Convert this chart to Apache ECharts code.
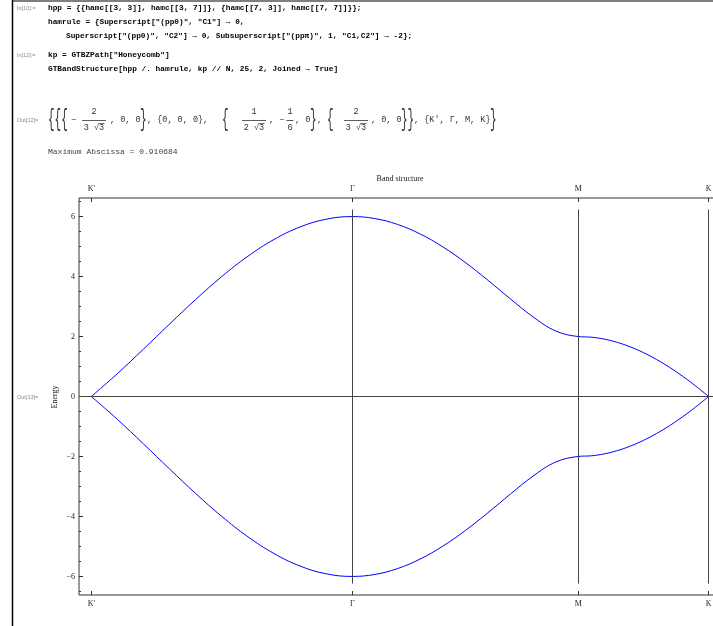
<!DOCTYPE html>
<html>
<head>
<meta charset="utf-8">
<script src="https://cdn.jsdelivr.net/npm/echarts@6/dist/echarts.min.js"></script>
<style>
html,body{margin:0;padding:0;background:#fff;overflow:hidden;}
#chart{width:722px;height:626px;}
</style>
</head>
<body>
<div id="chart"></div>
<script>
// ---- data ----
const kDist = [0, 0.03849, 0.07698, 0.11547, 0.15396, 0.19245, 0.23094, 0.26943, 0.30792, 0.34641, 0.38490,
  0.41823, 0.45157, 0.48490, 0.51823, 0.55157, 0.58490, 0.61823, 0.65157, 0.68490, 0.71823,
  0.73748, 0.75673, 0.77597, 0.79522, 0.81446, 0.83371, 0.85296, 0.87220, 0.89145, 0.91068];
const upperBand = [0, 0.764, 1.582, 2.418, 3.236, 4.000, 4.677, 5.236, 5.654, 5.913, 6.000,
  5.934, 5.740, 5.423, 4.994, 4.472, 3.880, 3.255, 2.656, 2.187, 2.000,
  1.978, 1.913, 1.804, 1.654, 1.464, 1.236, 0.973, 0.677, 0.351, 0];
const lowerBand = [0, -0.764, -1.582, -2.418, -3.236, -4.000, -4.677, -5.236, -5.654, -5.913, -6.000,
  -5.934, -5.740, -5.423, -4.994, -4.472, -3.880, -3.255, -2.656, -2.187, -2.000,
  -1.978, -1.913, -1.804, -1.654, -1.464, -1.236, -0.973, -0.677, -0.351, 0];
const kTickPos = [0, 0.38490, 0.71823, 0.91068];
const kTickLabels = ["K'", "\u0393", "M", "K"];
const energyTicks = [-6, -4, -2, 0, 2, 4, 6];
const energyMinorTicks = [-6.5, -5.5, -5, -4.5, -3.5, -3, -2.5, -1.5, -1, -0.5, 0.5, 1, 1.5, 2.5, 3, 3.5, 4.5, 5, 5.5, 6.5];
const codeLines = [
  'hpp = {{hamc[[3, 3]], hamc[[3, 7]]}, {hamc[[7, 3]], hamc[[7, 7]]}};',
  'hamrule = {Superscript["(pp0)", "C1"] \u2192 0,',
  'Superscript["(pp0)", "C2"] \u2192 0, Subsuperscript["(pp\u03c0)", 1, "C1,C2"] \u2192 -2};',
  'kp = GTBZPath["Honeycomb"]',
  'GTBandStructure[hpp /. hamrule, kp // N, 25, 2, Joined \u2192 True]'
];
const maxAbscissaText = 'Maximum Abscissa = 0.910684';

// ---- layout / styles ----
const X0 = -0.0182, X1 = 0.9289, Y0 = -6.62, Y1 = 6.62, VLINE = 6.24;
const serif = '"Liberation Serif", "Times New Roman", serif';
const mono = '"Liberation Mono", "Courier New", monospace';
const sans = '"Liberation Sans", Arial, sans-serif';
const outFont = '8.5px ' + mono;

function txt(x, y, text, font, fill, align, extra) {
  return Object.assign({type: 'text', x: x, y: y, silent: true,
    style: {text: text, font: font, fill: fill || '#000', textAlign: align || 'left', textVerticalAlign: 'middle'}}, extra || {});
}
function line(x1, y1, x2, y2, color, w) {
  return {type: 'line', silent: true, shape: {x1: x1, y1: y1, x2: x2, y2: y2}, style: {stroke: color, lineWidth: w}};
}
function frac(cx, y, num, den, half, rad) {
  const els = [
    txt(cx, y - 8, num, outFont, '#333', 'center'),
    line(cx - half, y + 0.5, cx + half, y + 0.5, '#333', 0.8),
    txt(cx, y + 8, den, outFont, '#333', 'center')
  ];
  if (rad) els.push(line(cx + 4.5, y + 3.5, cx + 10.5, y + 3.5, '#333', 0.7));
  return els;
}
function brace(x, y, t) {
  return txt(x, y, t, '11px ' + mono, '#333', 'left', {scaleY: 2.1});
}

const codeFont = 'bold 7.8px ' + mono;
const labelFont = '5.5px ' + sans;
const outY = 120;
const g = [
  line(12.5, 0, 12.5, 626, '#000', 1.5),
  line(12, 1, 722, 1, '#000', 1.2),
  txt(17, 8, 'In[10]:=', labelFont, '#888'),
  txt(48, 8, codeLines[0], codeFont),
  txt(48, 22, codeLines[1], codeFont),
  txt(66, 36, codeLines[2], codeFont),
  txt(17, 55, 'In[12]:=', labelFont, '#888'),
  txt(48, 55, codeLines[3], codeFont),
  txt(48, 69, codeLines[4], codeFont),
  txt(17, outY, 'Out[12]=', labelFont, '#888'),
  brace(48, outY, '{{{'),
  txt(71, outY, '\u2212', outFont, '#333'),
  ...frac(94, outY, '2', '3 \u221a3', 12, true),
  txt(110, outY, ', 0, 0', outFont, '#333'),
  brace(140, outY, '}'),
  txt(147, outY, ', {0, 0, 0}, ', outFont, '#333'),
  brace(222, outY, '{'),
  ...frac(254, outY, '1', '2 \u221a3', 12, true),
  txt(269, outY, ', \u2212', outFont, '#333'),
  ...frac(290, outY, '1', '6', 3.5, false),
  txt(295, outY, ', 0', outFont, '#333'),
  brace(310, outY, '}'),
  txt(317, outY, ', ', outFont, '#333'),
  brace(327, outY, '{'),
  ...frac(356, outY, '2', '3 \u221a3', 12, true),
  txt(371, outY, ', 0, 0', outFont, '#333'),
  brace(401, outY, '}}'),
  txt(414, outY, ', {K\u2032, \u0393, M, K}', outFont, '#333'),
  brace(490, outY, '}'),
  txt(48, 152, maxAbscissaText, '8px ' + mono, '#444'),
  txt(400, 179, 'Band structure', '8px ' + serif, '#222', 'center'),
  txt(17, 397, 'Out[13]=', labelFont, '#888'),
  txt(55, 397, 'Energy', '8px ' + serif, '#222', 'center', {rotation: Math.PI / 2})
];

const chart = echarts.init(document.getElementById('chart'), null, {renderer: 'canvas'});
const kFmt = v => { const i = kTickPos.findIndex(p => Math.abs(p - v) < 1e-6); return i >= 0 ? kTickLabels[i] : ''; };
const xAxisBase = pos => ({
  type: 'value', position: pos, min: X0, max: X1,
  axisLine: {show: false, onZero: false}, splitLine: {show: false},
  axisTick: {show: true, inside: true, length: 4, customValues: kTickPos, lineStyle: {color: '#333', width: 1}},
  axisLabel: {show: true, customValues: kTickPos, formatter: kFmt, margin: 5,
    fontFamily: serif, fontSize: 8, color: '#222'}
});
const pairs = arr => kDist.map((x, i) => [x, arr[i]]);

chart.setOption({
  animation: false,
  backgroundColor: '#fff',
  grid: {left: 79, top: 198, right: 1, height: 397, show: true, borderColor: '#333', borderWidth: 1,
    backgroundColor: 'transparent', containLabel: false, outerBoundsMode: 'none'},
  xAxis: [xAxisBase('bottom'), xAxisBase('top')],
  yAxis: [
    {type: 'value', position: 'left', min: Y0, max: Y1,
      axisLine: {show: false, onZero: false}, splitLine: {show: false},
      axisTick: {show: true, inside: true, length: 4, customValues: energyTicks, lineStyle: {color: '#333'}},
      axisLabel: {show: true, customValues: energyTicks, margin: 4, fontFamily: serif, fontSize: 8, color: '#222',
        formatter: v => String(v).replace('-', '\u2212')}},
    {type: 'value', position: 'left', min: Y0, max: Y1,
      axisLine: {show: false, onZero: false}, splitLine: {show: false},
      axisTick: {show: true, inside: true, length: 2, customValues: energyMinorTicks, lineStyle: {color: '#333'}},
      axisLabel: {show: false}}
  ],
  graphic: {elements: g},
  series: [
    {type: 'line', name: 'guides', data: [], xAxisIndex: 0, yAxisIndex: 0, silent: true,
      markLine: {silent: true, symbol: 'none', label: {show: false}, animation: false,
        lineStyle: {color: '#444', width: 1, type: 'solid'},
        data: [{yAxis: 0}].concat(kTickPos.slice(1).map(p => [{coord: [p, -VLINE]}, {coord: [p, VLINE]}]))}},
    {type: 'line', name: 'upper', data: pairs(upperBand), xAxisIndex: 0, yAxisIndex: 0,
      showSymbol: false, smooth: 0.4, lineStyle: {color: '#0000ff', width: 1}, silent: true},
    {type: 'line', name: 'lower', data: pairs(lowerBand), xAxisIndex: 0, yAxisIndex: 0,
      showSymbol: false, smooth: 0.4, lineStyle: {color: '#0000ff', width: 1}, silent: true}
  ]
});
</script>
</body>
</html>
